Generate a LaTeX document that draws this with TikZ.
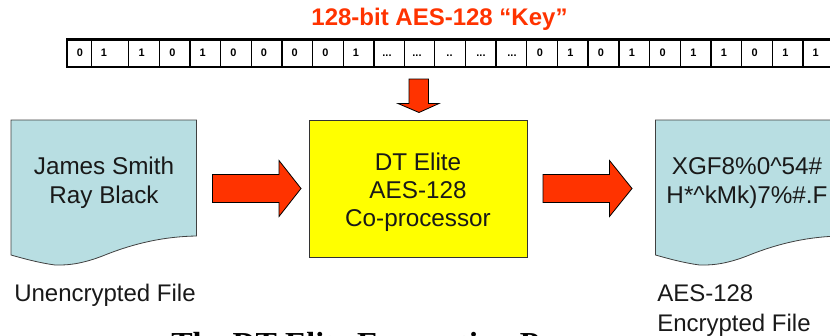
\documentclass[tikz,border=0pt]{standalone}
\usepackage{fontspec}
\setmainfont{Liberation Sans}
\newfontfamily\serifbold[Scale=1]{Liberation Serif}
\definecolor{arrowred}{RGB}{255,51,0}
\definecolor{docblue}{RGB}{184,222,226}
\definecolor{coyellow}{RGB}{255,255,0}
\newcommand\dotsthree{{.}{.}{.}}
\newcommand\dotstwo{{.}{.}}
\tikzset{
  px/.style={x=0.75pt,y=-0.75pt},
  docshape/.style={draw=black!75,line width=0.6pt,fill=docblue},
  blockarrow/.style={draw=black,line width=0.6pt,fill=arrowred},
  bigtext/.style={font=\fontsize{18.2pt}{21.8pt}\selectfont,align=center,inner sep=0pt,text=black!90},
  labeltext/.style={font=\fontsize{18pt}{22.5pt}\selectfont,align=left,inner sep=0pt,text=black!90},
  bittext/.style={font=\bfseries\fontsize{8.2pt}{9pt}\selectfont,inner sep=0pt,anchor=base},
  bitline/.style={draw=black,line width=0.9pt},
}
\begin{document}
\begin{tikzpicture}[px]
\useasboundingbox (0,0) rectangle (830,335);
\clip (0,0) rectangle (830,335);
% title
\node[font=\bfseries\fontsize{18pt}{20pt}\selectfont,text=arrowred,inner sep=0pt] (keytitle) at (439.5,19.5) {128-bit AES-128 “Key”};
% bit register
\fill[white] (66,38.5) rectangle (840,68);
\foreach \x in {91.5,128.7,159.3,190,220.7,251.3,282,312.7,343.3,374,404.7,434.7,465.3,496,526.7,557.7,588,619,649.7,680.3,711,741.7,772.3,803}
  \draw[bitline] (\x,39) -- (\x,67);
\draw[draw=black,line width=1.6pt] (840,39.5) -- (67,39.5) -- (67,67) -- (840,67);
\foreach \x/\t [count=\i] in {80/0,104/1,141.7/1,172.3/0,202.6/1,233.5/0,264/0,294.7/0,325.5/0,356/1,387/\dotsthree,417/\dotsthree,449.5/\dotstwo,481/\dotsthree,512/\dotsthree,540/0,570.3/1,601/0,632/1,662.7/0,693.3/1,724/1,754.7/0,785.3/1,815.7/1}
  \node[bittext] (bit\i) at (\x,56) {\t};
% key arrow
\draw[blockarrow] (409,79) -- (428.5,79) -- (428.5,103.5) -- (439,103.5) -- (419,112.5) -- (398,103.5) -- (409,103.5) -- cycle;
% left document
\draw[docshape] (11,120) -- (196.5,120) -- (196.5,236)
  .. controls (165,236.5) and (135,243) .. (105,255)
  .. controls (85,263) and (70,265.5) .. (55,265)
  .. controls (40,263) and (25,259) .. (11,255) -- cycle;
\node[bigtext] (plainfile) at (104,183) {James Smith\\Ray Black};
% right document
\draw[docshape] (655.5,120) -- (841,120) -- (841,236)
  .. controls (809.5,236.5) and (779.5,243) .. (749.5,255)
  .. controls (729.5,263) and (714.5,265.5) .. (699.5,265)
  .. controls (684.5,263) and (669.5,259) .. (655.5,255) -- cycle;
\node[bigtext] (cipherfile) at (747,183) {XGF8\%0\textasciicircum 54\#\\H*\textasciicircum kMk)7\%\#.F};
% processor
\node[draw=black!80,line width=0.6pt,fill=coyellow,minimum width=163.5pt,minimum height=102.75pt,inner sep=0pt] (coproc) at (418,188.5) {};
\node[bigtext,font=\fontsize{18.2pt}{21pt}\selectfont] (coproctext) at (418,192) {DT Elite\\AES-128\\Co-processor};
% block arrows
\draw[blockarrow] (212.5,174.5) -- (279,174.5) -- (279,160.5) -- (301,188.5) -- (279,216.5) -- (279,202.5) -- (212.5,202.5) -- cycle;
\draw[blockarrow] (543,174.5) -- (609.5,174.5) -- (609.5,160.5) -- (632,188.5) -- (609.5,216.5) -- (609.5,202.5) -- (543,202.5) -- cycle;
% captions
\node[labeltext,anchor=west] (plaincap) at (14,295) {Unencrypted File};
\node[labeltext,anchor=north west] (ciphercap) at (657,284) {AES-128\\Encrypted File};
% cut-off heading
\node[font=\serifbold\bfseries\fontsize{24pt}{26pt}\selectfont,inner sep=0pt,anchor=base west] (heading) at (171,354) {The DT Elite Encryption Process};
\end{tikzpicture}
\end{document}
